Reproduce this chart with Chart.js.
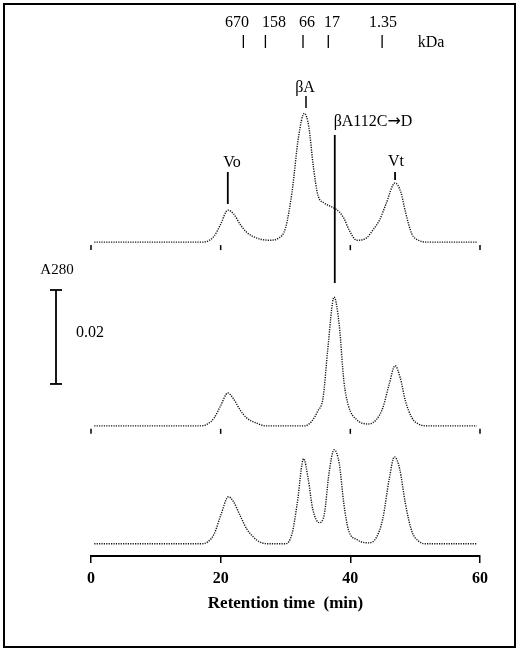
<!DOCTYPE html>
<html><head><meta charset="utf-8">
<script src="https://cdn.jsdelivr.net/npm/chart.js@4"></script>
<style>html,body{margin:0;padding:0;background:#fff}#w{width:520px;height:652px}</style>
</head><body><div id="w"><canvas id="c"></canvas></div>
<script>
// A280 in milli-absorbance units above each trace's own baseline
const topT = [0.5,17,18,19,20,21.1,22,23,24,25.5,27.5,29,30,31,32,32.9,33.6,34.3,35,36,37.3,38.3,39,39.8,41,42.5,43.5,44.5,45.5,46.9,47.8,48.5,49.5,50.5,52,59.5];
const topA = [0,0,0.2,1.3,3.8,6.8,6.0,3.8,2.1,0.9,0.4,0.9,3.0,10.6,22.3,27.4,24.5,16.0,10.0,8.3,7.4,6.4,5.1,2.6,0.4,0.9,2.6,4.7,8.1,12.6,10.6,6.4,1.7,0.4,0,0];
const midT = [0.5,17,18,19,20,21.1,22,23,24,25.5,27,33,34,35,35.8,36.5,37.5,38.3,39,39.7,41,42.8,44,45,46,46.9,47.7,48.5,49.5,50.5,52,59.5];
const midA = [0,0,0.4,1.7,4.3,7.0,5.7,3.4,1.7,0.6,0,0,0.9,3.2,6.0,16.0,27.4,21.3,9.6,4.3,1.3,0.4,1.3,3.8,8.9,12.8,10.2,5.3,1.7,0.4,0,0];
const botT = [0.5,17,18,19,20,21.2,22,23,24,25,26,27.5,30,31,31.8,32.8,33.5,34.2,35.2,36,36.7,37.5,38.3,39,39.7,41,42.8,44,45,46,46.8,47.6,48.5,49.5,50.5,51.5,59.5];
const botA = [0,0,0.4,2.1,6.0,10.0,8.9,6.0,3.2,1.5,0.4,0,0,2.1,8.5,18.1,13.8,7.4,4.5,6.4,14.9,20.0,17.0,8.5,3.0,0.9,0.2,1.3,5.3,13.8,18.5,16.0,8.5,2.6,0.6,0,0];
const traceOffsets = [66.8, 27.7, 2.6]; // baselines (mA) of top, middle, bottom traces
const xTicks = [0,20,40,60];
const kdaLabels = ['670','158','66','17','1.35'];
const kdaTimes = [23.5,26.9,32.7,36.6,44.9];
const kdaLabelX = [237,274,307,332,383];
const scaleBar = 20; // 0.02 A280 in mA
const F = 'Liberation Serif';

function series(t,a,off){return t.map((x,i)=>({x:x,y:a[i]+off}));}
const ds = [[topT,topA],[midT,midA],[botT,botA]].map((p,i)=>({
  data: series(p[0],p[1],traceOffsets[i]), borderColor:'#111', borderWidth:1.4,
  borderDash:[1.2,1.2], pointRadius:0, cubicInterpolationMode:'monotone', fill:false
}));

const deco = {id:'deco', afterDraw(ch){
  const c=ch.ctx, X=ch.scales.x, Y=ch.scales.y;
  const px=v=>X.getPixelForValue(v), py=v=>Y.getPixelForValue(v);
  c.save(); c.strokeStyle='#000'; c.fillStyle='#000';
  const line=(x1,y1,x2,y2,w)=>{c.lineWidth=w||1.5;c.beginPath();c.moveTo(x1,y1);c.lineTo(x2,y2);c.stroke();};
  c.lineWidth=2; c.strokeRect(4,4,511,643);
  [traceOffsets[0],traceOffsets[1]].forEach(o=>{xTicks.forEach(t=>line(px(t),py(o)+3,px(t),py(o)+8,1.5));});
  c.font='16px '+F; c.textAlign='center'; c.textBaseline='middle';
  kdaTimes.forEach((t,i)=>{c.fillText(kdaLabels[i],kdaLabelX[i],23);line(px(t),35,px(t),48,1.3);});
  c.fillText('kDa',431,43);
  c.font='16px '+F;
  c.fillText('\u03B2A',305,88); line(306,96,306,108,1.5);
  // βA112C→D with a full-size arrow
  c.textAlign='left';
  const s1='\u03B2A112C', w1=c.measureText(s1).width;
  c.font='16px DejaVu Sans'; const wa=c.measureText('\u2192').width;
  c.font='16px '+F; const wD=c.measureText('D').width;
  let x0=373-(w1+wa+wD)/2;
  c.fillText(s1,x0,122); c.font='16px DejaVu Sans'; c.fillText('\u2192',x0+w1,122);
  c.font='16px '+F; c.fillText('D',x0+w1+wa,122);
  c.textAlign='center';
  line(px(37.6),135,px(37.6),283,1.8);
  c.fillText('Vo',232,163); line(px(21.1),172,px(21.1),204,1.8);
  c.fillText('Vt',396,162); line(px(46.9),172,px(46.9),180,1.8);
  const y1=290, y2=y1+(py(0)-py(scaleBar));
  line(56,y1,56,y2,1.8); line(50,y1,62,y1,1.8); line(50,y2,62,y2,1.8);
  c.font='15px '+F; c.fillText('A280',57,270); c.font='16px '+F; c.fillText('0.02',90,333);
  c.restore();
}};

new Chart(document.getElementById('c'),{
  type:'line', data:{datasets:ds}, plugins:[deco],
  options:{responsive:true, maintainAspectRatio:false, animation:false,
    layout:{padding:{left:91,right:40,top:10,bottom:34}},
    plugins:{legend:{display:false},tooltip:{enabled:false}},
    scales:{
      x:{type:'linear',min:0,max:60,
        afterFit:s=>{s.height=62;},
        afterBuildTicks:s=>{s.ticks=xTicks.map(v=>({value:v}));},
        border:{display:true,color:'#000',width:2},
        grid:{drawOnChartArea:false,drawTicks:true,tickLength:7,color:'#000',lineWidth:1.5},
        ticks:{color:'#000',padding:6,font:{family:F,size:16,weight:'bold'},maxRotation:0},
        title:{display:true,text:'Retention time  (min)',color:'#000',font:{family:F,size:17,weight:'bold'},padding:{top:12}}
      },
      y:{display:false,min:0,max:116.2}
    }
  }
});
</script></body></html>
